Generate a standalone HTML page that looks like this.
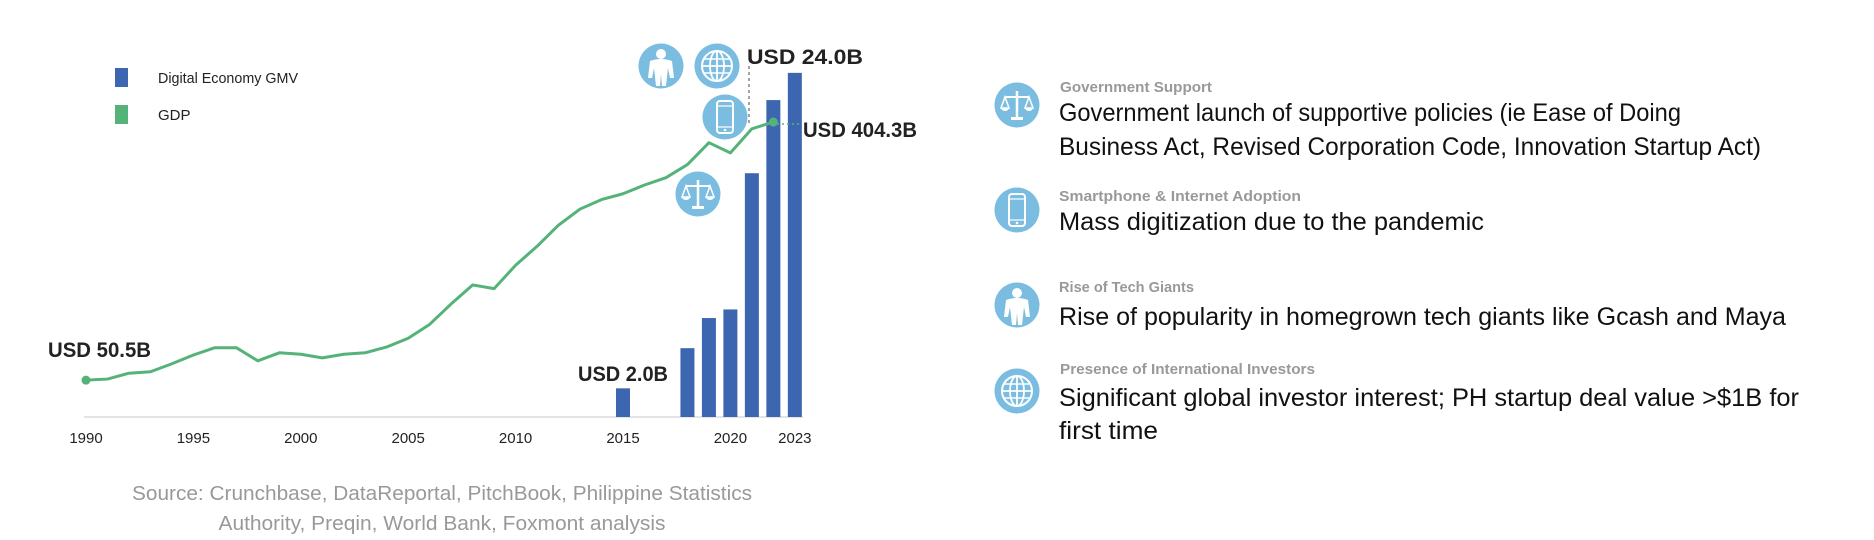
<!DOCTYPE html>
<html><head><meta charset="utf-8"><style>
html,body{margin:0;padding:0;background:#fff;}
svg{display:block;font-family:"Liberation Sans",sans-serif;}
</style></head><body>
<svg id="chart" width="1874" height="540" viewBox="0 0 1874 540">
  <g>
    <rect x="115" y="68" width="13" height="19" fill="#3d66b0"/>
    <text x="158" y="83" font-size="15" fill="#222" textLength="140" lengthAdjust="spacingAndGlyphs">Digital Economy GMV</text>
    <rect x="115" y="105" width="13" height="19" fill="#55b37a"/>
    <text x="158" y="120" font-size="15" fill="#222">GDP</text>
  </g>
  <line x1="84" y1="417" x2="803" y2="417" stroke="#e4e4e4" stroke-width="2"/>
  <g id="ticks"></g>
  <g id="bars"></g>
  <g id="line"></g>
  <line x1="749" y1="66" x2="749" y2="124" stroke="#666" stroke-width="1.2" stroke-dasharray="3,3"/>
  <line x1="772" y1="124" x2="802" y2="124" stroke="#55b37a" stroke-width="1.5" stroke-dasharray="2,3"/>
  <text x="747" y="64" font-size="21" font-weight="bold" fill="#222" textLength="116" lengthAdjust="spacingAndGlyphs">USD 24.0B</text>
  <text x="803" y="137" font-size="21" font-weight="bold" fill="#222" textLength="114" lengthAdjust="spacingAndGlyphs">USD 404.3B</text>
  <text x="48" y="357" font-size="21" font-weight="bold" fill="#222" textLength="103" lengthAdjust="spacingAndGlyphs">USD 50.5B</text>
  <text x="578" y="381" font-size="21" font-weight="bold" fill="#222" textLength="90" lengthAdjust="spacingAndGlyphs">USD 2.0B</text>

  <defs>
    <g id="ic-person"><circle r="22.5" fill="#7bbde0"/><circle cy="-12" r="5" fill="#fff"/><path d="M-11,-5 Q0,-9 11,-5 L13,12 L9,12 L7,2 L5,20 L1,20 L0,8 L-1,20 L-5,20 L-7,2 L-9,12 L-13,12 Z" fill="#fff"/></g>
    <g id="ic-globe"><circle r="22.5" fill="#7bbde0"/><circle r="15" fill="none" stroke="#fff" stroke-width="2"/><ellipse rx="7" ry="15" fill="none" stroke="#fff" stroke-width="1.8"/><line x1="0" y1="-15" x2="0" y2="15" stroke="#fff" stroke-width="1.8"/><line x1="-15" y1="0" x2="15" y2="0" stroke="#fff" stroke-width="1.8"/><line x1="-13" y1="-7" x2="13" y2="-7" stroke="#fff" stroke-width="1.5"/><line x1="-13" y1="7" x2="13" y2="7" stroke="#fff" stroke-width="1.5"/></g>
    <g id="ic-phone"><circle r="22.5" fill="#7bbde0"/><rect x="-8" y="-16" width="16" height="32" rx="3" fill="none" stroke="#fff" stroke-width="2"/><line x1="-7" y1="-11" x2="7" y2="-11" stroke="#fff" stroke-width="1.2"/><line x1="-7" y1="10" x2="7" y2="10" stroke="#fff" stroke-width="1.2"/><circle cy="13" r="1.3" fill="#fff"/></g>
    <g id="ic-scales"><circle r="22.5" fill="#7bbde0"/><line x1="0" y1="-14" x2="0" y2="13" stroke="#fff" stroke-width="2.5"/><line x1="-12" y1="-8" x2="12" y2="-8" stroke="#fff" stroke-width="2"/><rect x="-6" y="12" width="12" height="3" fill="#fff"/><path d="M-16,3 L-12,-8 L-8,3 Z M8,3 L12,-8 L16,3 Z" fill="none" stroke="#fff" stroke-width="1.5"/><path d="M-16,3 A4,3 0 0 0 -8,3 Z M8,3 A4,3 0 0 0 16,3 Z" fill="#fff"/></g>
  </defs>
  <use href="#ic-person" x="661" y="66"/>
  <use href="#ic-globe" x="717" y="66"/>
  <use href="#ic-phone" x="725" y="117"/>
  <use href="#ic-scales" x="698" y="194"/>

  <text x="442" y="500" font-size="20" fill="#999" text-anchor="middle" textLength="620" lengthAdjust="spacingAndGlyphs">Source: Crunchbase, DataReportal, PitchBook, Philippine Statistics</text>
  <text x="442" y="530" font-size="20" fill="#999" text-anchor="middle" textLength="447" lengthAdjust="spacingAndGlyphs">Authority, Preqin, World Bank, Foxmont analysis</text>

  <g>
    <use href="#ic-scales" x="1017" y="105"/>
    <text x="1060" y="92" font-size="15" font-weight="bold" fill="#999" textLength="152" lengthAdjust="spacingAndGlyphs">Government Support</text>
    <text x="1059" y="121" font-size="25" fill="#111" textLength="622" lengthAdjust="spacingAndGlyphs">Government launch of supportive policies (ie Ease of Doing</text>
    <text x="1059" y="155" font-size="25" fill="#111" textLength="702" lengthAdjust="spacingAndGlyphs">Business Act, Revised Corporation Code, Innovation Startup Act)</text>

    <use href="#ic-phone" x="1017" y="210"/>
    <text x="1059" y="201" font-size="15" font-weight="bold" fill="#999" textLength="242" lengthAdjust="spacingAndGlyphs">Smartphone &amp; Internet Adoption</text>
    <text x="1059" y="230" font-size="25" fill="#111" textLength="425" lengthAdjust="spacingAndGlyphs">Mass digitization due to the pandemic</text>

    <use href="#ic-person" x="1017" y="305"/>
    <text x="1059" y="292" font-size="15" font-weight="bold" fill="#999" textLength="135" lengthAdjust="spacingAndGlyphs">Rise of Tech Giants</text>
    <text x="1059" y="325" font-size="25" fill="#111" textLength="727" lengthAdjust="spacingAndGlyphs">Rise of popularity in homegrown tech giants like Gcash and Maya</text>

    <use href="#ic-globe" x="1017" y="391"/>
    <text x="1060" y="374" font-size="15" font-weight="bold" fill="#999" textLength="255" lengthAdjust="spacingAndGlyphs">Presence of International Investors</text>
    <text x="1059" y="406" font-size="25" fill="#111" textLength="740" lengthAdjust="spacingAndGlyphs">Significant global investor interest; PH startup deal value &gt;$1B for</text>
    <text x="1059" y="439" font-size="25" fill="#111" textLength="99" lengthAdjust="spacingAndGlyphs">first time</text>
  </g>
</svg>
<script>
const tickYears = [1990, 1995, 2000, 2005, 2010, 2015, 2020, 2023];
const gmvYears = [2015, 2018, 2019, 2020, 2021, 2022, 2023];
const gmvValues = [2.0, 4.8, 6.9, 7.5, 17.0, 22.1, 24.0];
const gdpYears = [1990,1991,1992,1993,1994,1995,1996,1997,1998,1999,2000,2001,2002,2003,2004,2005,2006,2007,2008,2009,2010,2011,2012,2013,2014,2015,2016,2017,2018,2019,2020,2021,2022];
const gdpValues = [50.5,52,60,62,73,85,95,95,77,88,86,81,86,88,96,108,127,155,181,176,208,234,263,285,298,306,318,328,346,376,362,395,404.3];

const NS = 'http://www.w3.org/2000/svg';
const baseY = 417;
function xScale(yr){ return 86 + 21.48 * (yr - 1990); }
function yBar(v){ return baseY - 14.34 * v; }
function yGdp(v){ return baseY - 0.7296 * v; }

const ticks = document.getElementById('ticks');
tickYears.forEach(function(yr){
  const t = document.createElementNS(NS, 'text');
  t.setAttribute('x', xScale(yr));
  t.setAttribute('y', 443);
  t.setAttribute('font-size', '15');
  t.setAttribute('fill', '#222');
  t.setAttribute('text-anchor', 'middle');
  t.textContent = yr;
  
  
  ticks.appendChild(t);
});

const bars = document.getElementById('bars');
gmvYears.forEach(function(yr, i){
  const r = document.createElementNS(NS, 'rect');
  const top = yBar(gmvValues[i]);
  r.setAttribute('x', xScale(yr) - 7);
  r.setAttribute('y', top);
  r.setAttribute('width', 14);
  r.setAttribute('height', baseY - top);
  r.setAttribute('fill', '#3d66b0');
  
  
  bars.appendChild(r);
});

const lg = document.getElementById('line');
const pts = gdpYears.map(function(yr, i){ return xScale(yr) + ',' + yGdp(gdpValues[i]); }).join(' ');
const pl = document.createElementNS(NS, 'polyline');
pl.setAttribute('points', pts);
pl.setAttribute('fill', 'none');
pl.setAttribute('stroke', '#55b37a');
pl.setAttribute('stroke-width', '3');
pl.setAttribute('stroke-linejoin', 'round');


lg.appendChild(pl);
[0, gdpYears.length - 1].forEach(function(i){
  const c = document.createElementNS(NS, 'circle');
  c.setAttribute('cx', xScale(gdpYears[i]));
  c.setAttribute('cy', yGdp(gdpValues[i]));
  c.setAttribute('r', 4.5);
  c.setAttribute('fill', '#55b37a');
  
  
  lg.appendChild(c);
});
</script>
</body></html>
